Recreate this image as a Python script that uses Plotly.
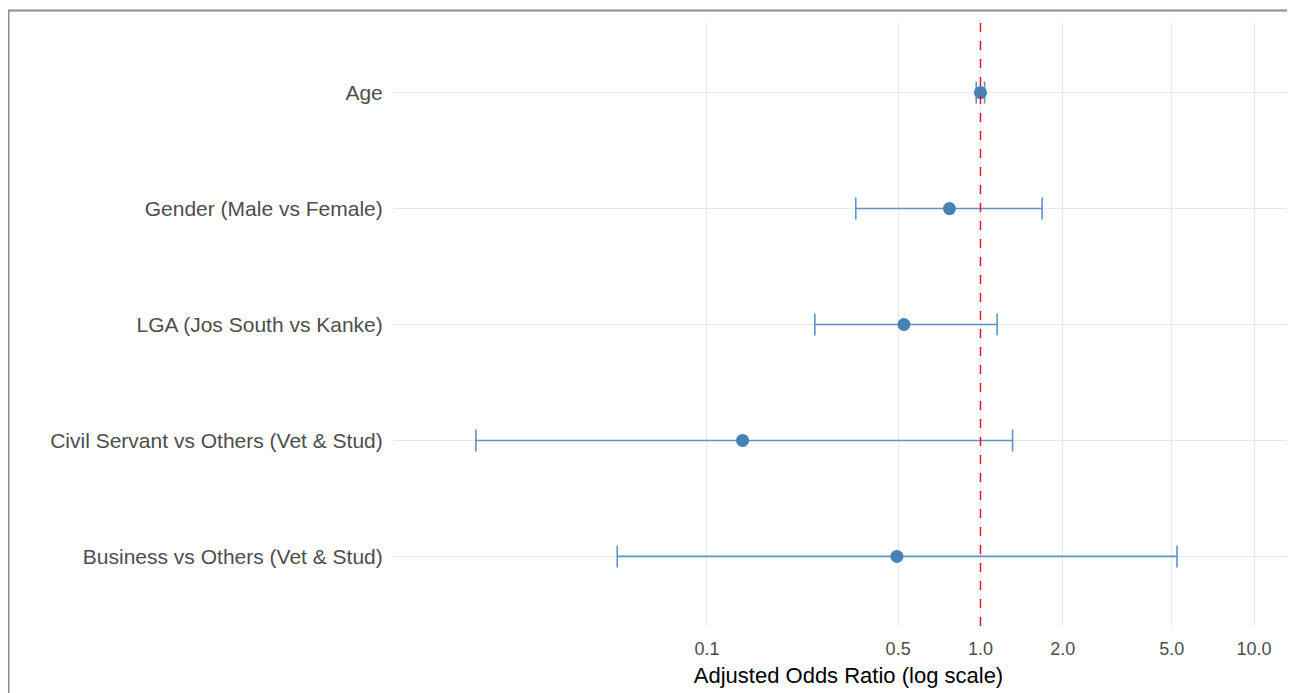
import plotly.graph_objects as go

terms = ["Age", "Gender (Male vs Female)", "LGA (Jos South vs Kanke)",
         "Civil Servant vs Others (Vet & Stud)", "Business vs Others (Vet & Stud)"]
odds_ratio = [1.00, 0.77, 0.525, 0.135, 0.495]
ci_low = [0.965, 0.35, 0.248, 0.0143, 0.047]
ci_high = [1.035, 1.68, 1.15, 1.31, 5.23]
x_tick_vals = [0.1, 0.5, 1.0, 2.0, 5.0, 10.0]
x_tick_text = ["0.1", "0.5", "1.0", "2.0", "5.0", "10.0"]

plus = [h - o for h, o in zip(ci_high, odds_ratio)]
minus = [o - l for o, l in zip(odds_ratio, ci_low)]

fig = go.Figure()
fig.add_trace(go.Scatter(
    x=odds_ratio, y=terms, mode="markers",
    marker=dict(color="#4682B4", size=13),
    error_x=dict(type="data", symmetric=False, array=plus, arrayminus=minus,
                 color="#5f93c4", thickness=1.6, width=11),
    showlegend=False, hoverinfo="x+y",
))

fig.add_shape(type="line", xref="x", yref="paper", x0=1, x1=1, y0=0, y1=1,
              line=dict(color="#e41a1c", width=1.5, dash="dash"))

# outer frame of the screenshot
fig.add_shape(type="rect", xref="paper", yref="paper",
              x0=-0.4241, x1=1.2, y0=-0.3, y1=1.0207,
              line=dict(color="#8c8c8c", width=2), layer="below")

fig.update_layout(
    width=1295, height=685,
    margin=dict(l=386, r=0, t=15, b=67),
    paper_bgcolor="white", plot_bgcolor="white",
    font=dict(family="Liberation Sans, Arial, sans-serif", size=18, color="#4d4d4d"),
    xaxis=dict(type="log", range=[-2.144, 1.179],
               tickmode="array", tickvals=x_tick_vals, ticktext=x_tick_text,
               showgrid=True, gridcolor="#e8e8e8", gridwidth=1.2,
               zeroline=False, showline=False,
               ticks="outside", ticklen=6, tickcolor="rgba(0,0,0,0)",
               tickfont=dict(size=18, color="#4d4d4d"),
               title=dict(text="Adjusted Odds Ratio (log scale)",
                          font=dict(size=22, color="black"), standoff=10)),
    yaxis=dict(type="category", categoryorder="array", categoryarray=terms,
               range=[len(terms) - 0.4, -0.6],
               showgrid=True, gridcolor="#e8e8e8", gridwidth=1.2,
               zeroline=False, showline=False,
               ticks="outside", ticklen=6, tickcolor="rgba(0,0,0,0)",
               tickfont=dict(size=21, color="#4d4d4d")),
)

fig.write_html("out.html")
